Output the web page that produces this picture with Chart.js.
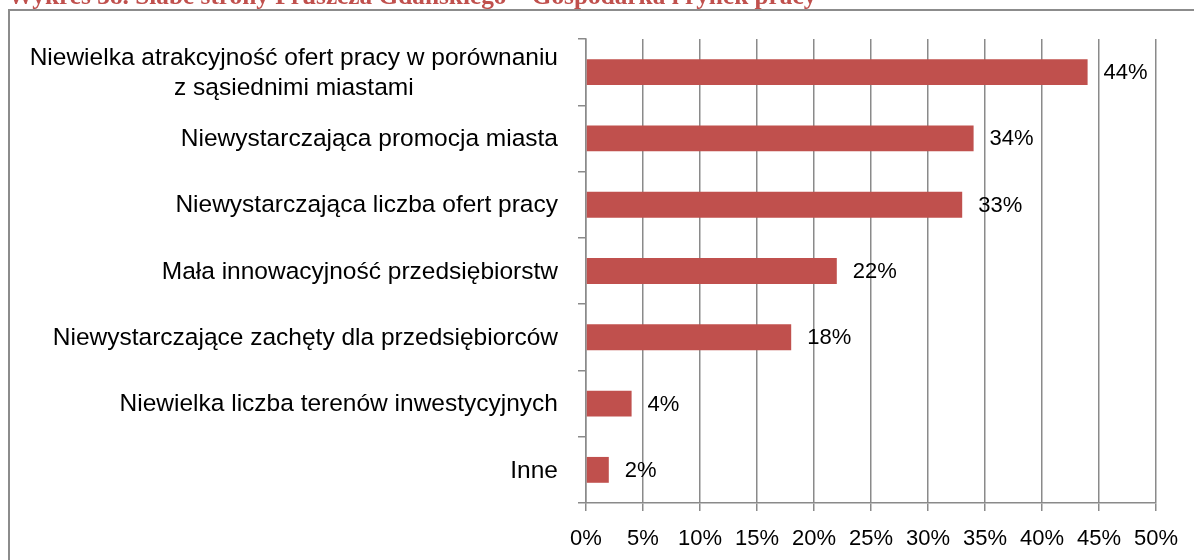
<!DOCTYPE html>
<html lang="pl">
<head>
<meta charset="utf-8">
<title>Słabe strony Pruszcza Gdańskiego – gospodarka i rynek pracy</title>
<script src="https://cdn.jsdelivr.net/npm/chart.js@4"></script>
<style>
  html, body { margin: 0; padding: 0; background: #ffffff; }
  #wrap { position: relative; width: 1194px; height: 560px; overflow: hidden; }
  canvas { display: block; }
</style>
</head>
<body>
<div id="wrap"><canvas id="chart" width="1194" height="560"></canvas></div>
<script>
// Chart title
const title = 'Wykres 38. Słabe strony Pruszcza Gdańskiego – Gospodarka i rynek pracy';

// Categories (top to bottom); an array means a label on several lines
const categories = [
  ['Niewielka atrakcyjność ofert pracy w porównaniu', 'z sąsiednimi miastami'],
  'Niewystarczająca promocja miasta',
  'Niewystarczająca liczba ofert pracy',
  'Mała innowacyjność przedsiębiorstw',
  'Niewystarczające zachęty dla przedsiębiorców',
  'Niewielka liczba terenów inwestycyjnych',
  'Inne'
];

// Share of answers, in percent
const shares = [44, 34, 33, 22, 18, 4, 2];

// Value axis ticks, in percent
const axisTicks = [0, 5, 10, 15, 20, 25, 30, 35, 40, 45, 50];

const BAR = '#C0504D';
const GRID = '#8a8a8a';
const FONT = '"Liberation Sans", Arial, sans-serif';
const LABEL_SIZE = 24.5;
const NUM_SIZE = 22;

// Page frame and the red title above it
const framePlugin = {
  id: 'frame',
  beforeDraw(chart) {
    const ctx = chart.ctx;
    ctx.save();
    ctx.fillStyle = '#ffffff';
    ctx.fillRect(0, 0, chart.width, chart.height);
    ctx.fillStyle = '#8c8c8c';
    ctx.fillRect(8, 9, chart.width - 8, 2);
    ctx.fillRect(8, 9, 2, chart.height - 9);
    ctx.fillStyle = '#C0504D';
    const fam = '"Liberation Serif", "DejaVu Serif", serif';
    ctx.font = 'bold 20px ' + fam;
    const size = 20 * 809 / ctx.measureText(title).width;
    ctx.font = 'bold ' + size.toFixed(1) + 'px ' + fam;
    ctx.textBaseline = 'alphabetic';
    ctx.textAlign = 'left';
    ctx.fillText(title, 8, 4);
    ctx.restore();
  }
};

// Category labels: each block right-aligned to the axis, its lines centred
const categoryLabels = {
  id: 'categoryLabels',
  afterDraw(chart) {
    const ctx = chart.ctx;
    const y = chart.scales.y;
    const right = chart.chartArea.left - 28;
    const lineH = 30;
    ctx.save();
    ctx.font = LABEL_SIZE + 'px ' + FONT;
    ctx.fillStyle = '#000000';
    ctx.textAlign = 'center';
    ctx.textBaseline = 'middle';
    categories.forEach((cat, i) => {
      const lines = Array.isArray(cat) ? cat : [cat];
      const w = Math.max(...lines.map(l => ctx.measureText(l).width));
      const cx = right - w / 2;
      const cy = y.getPixelForValue(i) + 1;
      lines.forEach((line, k) => {
        ctx.fillText(line, cx, cy + (k - (lines.length - 1) / 2) * lineH);
      });
    });
    ctx.restore();
  }
};

// Value labels next to the bar ends
const valueLabels = {
  id: 'valueLabels',
  afterDatasetsDraw(chart) {
    const ctx = chart.ctx;
    const meta = chart.getDatasetMeta(0);
    ctx.save();
    ctx.font = NUM_SIZE + 'px ' + FONT;
    ctx.fillStyle = '#000000';
    ctx.textAlign = 'left';
    ctx.textBaseline = 'middle';
    meta.data.forEach((bar, i) => {
      ctx.fillText(shares[i] + '%', bar.x + 16, bar.y + 1);
    });
    ctx.restore();
  }
};

new Chart(document.getElementById('chart'), {
  type: 'bar',
  data: {
    labels: categories.map(c => Array.isArray(c) ? c.join(' ') : c),
    datasets: [{
      data: shares,
      backgroundColor: BAR,
      borderWidth: 0,
      barPercentage: 0.39,
      categoryPercentage: 1
    }]
  },
  options: {
    indexAxis: 'y',
    responsive: false,
    animation: false,
    devicePixelRatio: 1,
    layout: { padding: { top: 39, right: 38, left: 0, bottom: 0 } },
    plugins: { legend: { display: false }, tooltip: { enabled: false } },
    scales: {
      x: {
        min: 0,
        max: 50,
        afterBuildTicks(scale) { scale.ticks = axisTicks.map(v => ({ value: v })); },
        afterFit(scale) { scale.height = 57; },
        ticks: {
          color: '#000000',
          font: { family: FONT, size: NUM_SIZE },
          padding: 15,
          maxRotation: 0,
          autoSkip: false,
          callback: v => v + '%'
        },
        grid: { color: GRID, lineWidth: 1.5, tickLength: 8, drawTicks: true },
        border: { display: true, color: GRID, width: 1.5 }
      },
      y: {
        afterFit(scale) { scale.width = 586; },
        ticks: { display: false },
        grid: { drawOnChartArea: false, drawTicks: true, tickLength: 8, color: GRID, lineWidth: 1.5, offset: true },
        border: { display: true, color: GRID, width: 1.5 }
      }
    }
  },
  plugins: [framePlugin, categoryLabels, valueLabels]
});
</script>
</body>
</html>
